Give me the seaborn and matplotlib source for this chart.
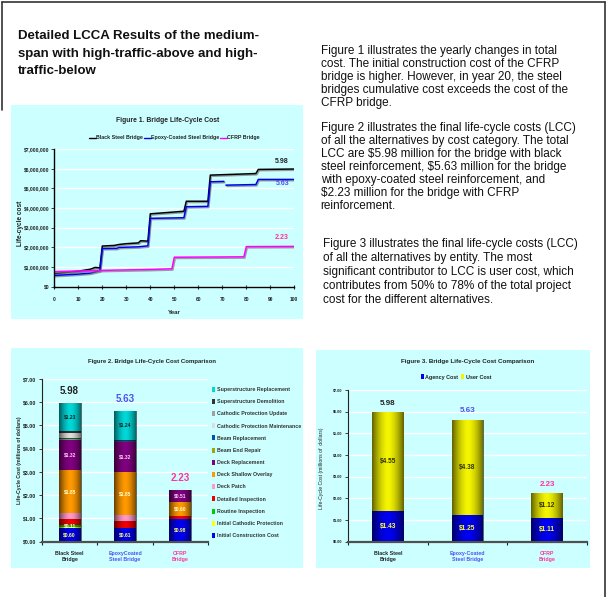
import matplotlib
matplotlib.use("Agg")
import numpy as np
import pandas as pd
import matplotlib.pyplot as plt
import matplotlib.patheffects as pe
from matplotlib.patches import Rectangle
from matplotlib.lines import Line2D
from matplotlib.ticker import FuncFormatter
import seaborn as sns

# ---------------------------------------------------------------- data
bridges = ["Black Steel Bridge", "Epoxy-Coated Steel Bridge", "CFRP Bridge"]
totals = [5.98, 5.63, 2.23]
total_colors = ["#222222", "#5050F0", "#FF3399"]
line_colors = ["#000000", "#0000EE", "#FF00FF"]

# Figure 1 - cumulative life-cycle cost by year (millions of dollars)
black_years = [0, 10, 15, 17, 19, 20, 25, 27, 30, 35, 36, 39, 40, 54, 55, 64, 65, 84, 85, 100]
black_cost = [0.66, 0.78, 0.88, 0.97, 0.95, 2.06, 2.09, 2.14, 2.18, 2.22, 2.33, 2.31,
              3.70, 3.83, 4.34, 4.34, 5.67, 5.75, 5.96, 5.98]
epoxy_years = [0, 10, 15, 19, 20, 26, 27, 35, 39, 40, 54, 55, 64, 65, 70.7, 71, 71.5, 84, 85, 100]
epoxy_cost = [0.56, 0.63, 0.68, 0.80, 1.93, 1.94, 1.99, 2.02, 2.07, 3.47, 3.50, 4.06, 4.08,
              5.33, 5.35, np.nan, 5.16, 5.19, 5.45, 5.45]
cfrp_years = [0, 20, 40, 49, 50, 79, 80, 100]
cfrp_cost = [0.76, 0.82, 0.87, 0.90, 1.49, 1.51, 2.03, 2.04]

# Figure 2 - life-cycle cost by cost category (millions of dollars)
cost_categories = ["Initial Construction Cost", "Initial Cathodic Protection", "Routine Inspection",
                   "Detailed Inspection", "Deck Patch", "Deck Shallow Overlay", "Deck Replacement",
                   "Beam End Repair", "Beam Replacement", "Cathodic Protection Maintenance",
                   "Cathodic Protection Update", "Superstructure Demolition",
                   "Superstructure Replacement"]
black_steel = [0.60, 0.02, 0.11, 0.25, 0.24, 1.85, 1.32, 0.03, 0.03, 0.21, 0.03, 0.06, 1.23]
epoxy_coated = [0.61, 0.00, 0.00, 0.28, 0.24, 1.85, 1.32, 0.00, 0.03, 0.00, 0.00, 0.06, 1.24]
cfrp = [0.98, 0.00, 0.00, 0.14, 0.00, 0.60, 0.51, 0.00, 0.00, 0.00, 0.00, 0.00, 0.00]
category_colors = ["#0000F0", "#FFFF00", "#00CC00", "#EE0000", "#FF99CC", "#FF9900", "#800080",
                   "#99AA00", "#0055AA", "#DDDDDD", "#A0A0A0", "#333333", "#00D8D8"]
labelled = {"Initial Construction Cost": "#FFFF66", "Routine Inspection": "#FFFFCC",
            "Deck Shallow Overlay": "#FFFFCC", "Deck Replacement": "#FFD0F0",
            "Superstructure Replacement": "#222222"}
fig2_ticklabels = ["Black Steel\nBridge", "EpoxyCoated\nSteel Bridge", "CFRP\nBridge"]

# Figure 3 - life-cycle cost by entity (millions of dollars)
entities = ["Agency Cost", "User Cost"]
agency_cost = [1.43, 1.25, 1.11]
user_cost = [4.55, 4.38, 1.12]
entity_colors = ["#0000F0", "#F4F400"]
fig3_ticklabels = ["Black Steel\nBridge", "Epoxy-Coated\nSteel Bridge", "CFRP\nBridge"]

# ---------------------------------------------------------------- page
sns.set_theme(style="white")
plt.rcParams["font.family"] = ["Liberation Sans", "DejaVu Sans"]

W, H = 613, 597
fig = plt.figure(figsize=(W / 100, H / 100), dpi=100)
fig.patch.set_facecolor("white")
CYAN = "#CCFFFF"
INK = "#222222"


def rect(x0, y0, x1, y1):
    return [x0 / W, 1 - y1 / H, (x1 - x0) / W, (y1 - y0) / H]


def ftext(x, y, s, **kw):
    return fig.text(x / W, 1 - y / H, s, **kw)


def fline(xs, ys, **kw):
    fig.add_artist(Line2D([x / W for x in xs], [1 - y / H for y in ys],
                          transform=fig.transFigure, **kw))


# page frame
fline([2, 605], [2, 2], color="#333333", lw=1.2)
fline([605, 605], [2, 597], color="#333333", lw=1.2)
fline([2, 2], [2, 110], color="#333333", lw=1.2)

# panel backgrounds
for x0, y0, x1, y1 in [(11, 105, 303, 319), (11, 348, 303, 568), (316, 350, 590, 568)]:
    fig.add_artist(Rectangle((x0 / W, 1 - y1 / H), (x1 - x0) / W, (y1 - y0) / H,
                             transform=fig.transFigure, facecolor=CYAN,
                             edgecolor="none", zorder=0))

# heading and commentary
heading = ["Detailed LCCA Results of the medium-",
           "span with high-traffic-above and high-",
           "traffic-below"]
for i, s in enumerate(heading):
    ftext(18, 36 + i * 17.5, s, fontsize=9.5, fontweight="bold", color="#111111",
          va="center")

paragraphs = [
    (320.7, 50.7, 13.0, ["Figure 1 illustrates the yearly changes in total",
                         "cost. The initial construction cost of the CFRP",
                         "bridge is higher. However, in year 20, the steel",
                         "bridges cumulative cost exceeds the cost of the",
                         "CFRP bridge."]),
    (320.7, 128.3, 12.95, ["Figure 2 illustrates the final life-cycle costs (LCC)",
                           "of all the alternatives by cost category. The total",
                           "LCC are $5.98 million for the bridge with black",
                           "steel reinforcement, $5.63 million for the bridge",
                           "with epoxy-coated steel reinforcement, and",
                           "$2.23 million for the bridge with CFRP",
                           "reinforcement."]),
    (322.7, 244.0, 14.0, ["Figure 3 illustrates the final life-cycle costs (LCC)",
                          "of all the alternatives by entity. The most",
                          "significant contributor to LCC is user cost, which",
                          "contributes from 50% to 78% of the total project",
                          "cost for the different alternatives."]),
]
for x, y, step, lines in paragraphs:
    for i, s in enumerate(lines):
        ftext(x, y + i * step, s.replace("$", r"\$"), fontsize=8.5, color="#111111",
              va="center")


def cylinder(ax):
    """Shade each bar column so it reads as a rounded column."""
    tallest = {}
    for p in ax.patches:
        if p.get_height() <= 0:
            continue
        key = round(p.get_x() + p.get_width() / 2, 3)
        if key not in tallest or p.get_height() > tallest[key].get_height():
            tallest[key] = p
    t = np.linspace(0, 1, 64)
    alpha = 0.6 * np.abs(2 * t - 1) ** 1.7
    shade = np.zeros((1, 64, 4))
    shade[0, :, 3] = alpha
    xl, yl = ax.get_xlim(), ax.get_ylim()
    for p in tallest.values():
        im = ax.imshow(shade, extent=(p.get_x(), p.get_x() + p.get_width(),
                                      p.get_y(), p.get_y() + p.get_height()),
                       aspect="auto", interpolation="bilinear", zorder=p.get_zorder() + 0.5)
        im.set_clip_path(p)
    ax.set_xlim(xl)
    ax.set_ylim(yl)


def style_bar_axes(ax, tick_size):
    ax.set_facecolor("none")
    ax.set_ylim(0, 7)
    ax.set_yticks(range(0, 8))
    ax.yaxis.set_major_formatter(FuncFormatter(lambda v, _: f"${v:.2f}"))
    ax.grid(axis="y", color="white", lw=1.0)
    ax.set_axisbelow(True)
    for s in ["top", "right"]:
        ax.spines[s].set_visible(False)
    ax.spines["left"].set_color("#222222")
    ax.spines["left"].set_linewidth(0.8)
    ax.spines["bottom"].set_color("#505050")
    ax.spines["bottom"].set_linewidth(1.6)
    ax.tick_params(axis="y", which="major", left=True, length=2.5, width=0.6, color="#222222",
                   pad=1.5, labelsize=tick_size, labelcolor=INK)
    ax.set_xticks([-0.5, 0.5, 1.5, 2.5], minor=True)
    ax.tick_params(axis="x", which="minor", bottom=True, length=2.5, width=0.8, color="#222222")
    ax.tick_params(axis="x", which="major", bottom=False, pad=0.6, labelsize=3.8)
    for lab in ax.get_yticklabels():
        lab.set_fontweight("bold")
    ax.set_xlabel("")
    ax.set_ylabel("")


# ---------------------------------------------------------------- Figure 1
ax1 = fig.add_axes(rect(54.3, 149, 294.3, 286.5))
frames = []
for name, yrs, cost in [(bridges[0], black_years, black_cost),
                        (bridges[1], epoxy_years, epoxy_cost),
                        (bridges[2], cfrp_years, cfrp_cost)]:
    cost = np.asarray(cost, float)
    seg = np.cumsum(np.isnan(cost))
    ok = ~np.isnan(cost)
    frames.append(pd.DataFrame({"Year": np.asarray(yrs, float)[ok], "Cost": cost[ok],
                                "Bridge": name, "Run": [f"{name}{k}" for k in seg[ok]]}))
lcc = pd.concat(frames, ignore_index=True)
sns.lineplot(data=lcc, x="Year", y="Cost", hue="Bridge", units="Run", estimator=None,
             hue_order=bridges, palette=line_colors, sort=False, legend=False,
             lw=1.1, ax=ax1)
for ln in ax1.lines:
    ln.set_path_effects([pe.SimpleLineShadow(offset=(0.7, -0.9), shadow_color="#777777",
                                             alpha=0.7), pe.Normal()])
ax1.set_facecolor("none")
ax1.set_xlim(0, 100)
ax1.set_ylim(0, 7)
ax1.set_xticks(range(0, 101, 10))
ax1.set_yticks(range(0, 8))
ax1.yaxis.set_major_formatter(FuncFormatter(lambda v, _: f"${v * 1e6:,.0f}"))
ax1.grid(axis="y", color="white", lw=1.0)
ax1.set_axisbelow(True)
for s in ["top", "right"]:
    ax1.spines[s].set_visible(False)
for s in ["left", "bottom"]:
    ax1.spines[s].set_color("black")
    ax1.spines[s].set_linewidth(1.0)
ax1.tick_params(axis="y", left=True, length=2, width=0.6, pad=1.5, labelsize=3.6,
                labelcolor=INK)
ax1.tick_params(axis="x", bottom=True, direction="inout", length=3, width=0.8, pad=6,
                labelsize=3.5, labelcolor=INK)
for lab in ax1.get_xticklabels() + ax1.get_yticklabels():
    lab.set_fontweight("bold")
ax1.set_xlabel("")
ax1.set_ylabel("")
ends = [black_cost[-1], epoxy_cost[-1], cfrp_cost[-1]]
offsets = [5.3, -3.2, 6.5]
for i in range(3):
    ax1.annotate(f"{totals[i]:.2f}", xy=(100, ends[i]), xytext=(-3.8, offsets[i]),
                 textcoords="offset points", ha="right", va="center", fontsize=5,
                 fontweight="bold", color=total_colors[i])

ftext(168, 120, "Figure 1. Bridge Life-Cycle Cost", fontsize=4.9, fontweight="bold",
      ha="center", va="center", color=INK)
ftext(20, 223, "Life-cycle cost", fontsize=4.7, fontweight="bold", rotation=90,
      ha="center", va="center", color=INK)
ftext(174, 312, "Year", fontsize=4.4, fontweight="bold", ha="center", va="center", color=INK)
fig.legend(handles=[Line2D([], [], color=c, lw=1.0) for c in line_colors], labels=bridges,
           loc="center", bbox_to_anchor=(174.5 / W, 1 - 138 / H), ncol=3, frameon=False,
           prop={"size": 3.8, "weight": "bold"}, handlelength=1.3, handletextpad=0.1,
           columnspacing=0.1, borderpad=0, labelcolor=INK)

# ---------------------------------------------------------------- Figure 2
ax2 = fig.add_axes(rect(42, 379, 208, 541.7))
by_bridge = np.array([black_steel, epoxy_coated, cfrp])
stack_top = by_bridge.cumsum(axis=1)
for k in range(len(cost_categories) - 1, -1, -1):
    sns.barplot(x=fig2_ticklabels, y=stack_top[:, k], color=category_colors[k], width=0.4,
                saturation=1, errorbar=None, edgecolor="none", linewidth=0, ax=ax2)
style_bar_axes(ax2, 3.8)
cylinder(ax2)
for i in range(3):
    for k, cat in enumerate(cost_categories):
        v = by_bridge[i, k]
        if v > 0 and cat in labelled:
            ax2.text(i, stack_top[i, k] - v / 2, f"${v:.2f}", ha="center", va="center",
                     fontsize=3.6, fontweight="bold", color=labelled[cat], zorder=10)
    ax2.annotate(f"{totals[i]:.2f}", xy=(i, totals[i]), xytext=(0, 8.6),
                 textcoords="offset points", ha="center", va="center", fontsize=7,
                 fontweight="bold", color=total_colors[i])
for lab, c in zip(ax2.get_xticklabels(), total_colors):
    lab.set_color(c)
    lab.set_fontweight("bold")
ftext(152, 361, "Figure 2. Bridge Life-Cycle Cost Comparison", fontsize=4.3,
      fontweight="bold", ha="center", va="center", color=INK)
ftext(20, 460, "Life-Cycle Cost (millions of dollars)", fontsize=3.7, fontweight="bold",
      rotation=90, ha="center", va="center", color=INK)
handles2 = [Rectangle((0, 0), 1, 1, facecolor=c, edgecolor="none") for c in category_colors]
fig.legend(handles=handles2[::-1], labels=cost_categories[::-1], loc="upper left",
           bbox_to_anchor=(209 / W, 1 - 384 / H), frameon=False,
           prop={"size": 3.8, "weight": "bold"}, handlelength=0.6, handleheight=1.1,
           handletextpad=0.4, labelspacing=1.3, borderpad=0, labelcolor="#333333")

# ---------------------------------------------------------------- Figure 3
ax3 = fig.add_axes(rect(348, 390, 587, 541.7))
entity_tops = np.array([agency_cost, user_cost]).T.cumsum(axis=1)
for k in range(len(entities) - 1, -1, -1):
    sns.barplot(x=fig3_ticklabels, y=entity_tops[:, k], color=entity_colors[k], width=0.4,
                saturation=1, errorbar=None, edgecolor="none", linewidth=0, ax=ax3)
style_bar_axes(ax3, 2.7)
cylinder(ax3)
for i in range(3):
    ax3.text(i, agency_cost[i] / 2, f"${agency_cost[i]:.2f}", ha="center", va="center",
             fontsize=4.7, fontweight="bold", color="#FFFF33", zorder=10)
    ax3.text(i, agency_cost[i] + user_cost[i] / 2, f"${user_cost[i]:.2f}", ha="center",
             va="center", fontsize=4.7, fontweight="bold", color="#333300", zorder=10)
    ax3.annotate(f"{totals[i]:.2f}", xy=(i, totals[i]), xytext=(0, 6.5),
                 textcoords="offset points", ha="center", va="center", fontsize=5.8,
                 fontweight="bold", color=total_colors[i])
for lab, c in zip(ax3.get_xticklabels(), total_colors):
    lab.set_color(c)
    lab.set_fontweight("bold")
ftext(468, 361, "Figure 3. Bridge Life-Cycle Cost Comparison", fontsize=4.5,
      fontweight="bold", ha="center", va="center", color=INK)
ftext(322, 468, "Life-Cycle Cost (millions of  dollars)", fontsize=3.7, rotation=90,
      ha="center", va="center", color=INK)
handles3 = [Rectangle((0, 0), 1, 1, facecolor=c, edgecolor="none") for c in entity_colors]
fig.legend(handles=handles3, labels=entities, loc="center", bbox_to_anchor=(456 / W, 1 - 377 / H),
           ncol=2, frameon=False, prop={"size": 3.9, "weight": "bold"}, handlelength=0.45,
           handleheight=1.1, handletextpad=0.3, columnspacing=0.6, borderpad=0,
           labelcolor="#222222")

fig.savefig("out.png", dpi=100, facecolor="white")
